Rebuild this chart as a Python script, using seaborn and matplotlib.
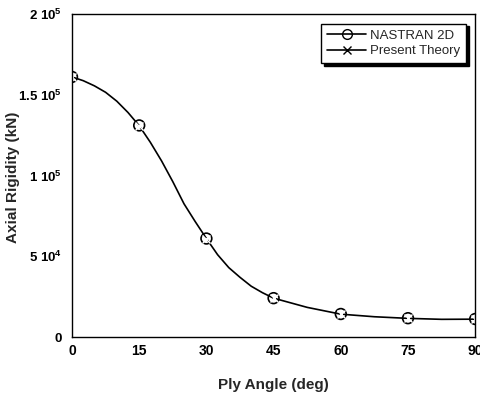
import matplotlib
matplotlib.use("Agg")
import matplotlib.pyplot as plt
import seaborn as sns
from matplotlib.lines import Line2D

# ---- data ----
nastran_angle = [0, 15, 30, 45, 60, 75, 90]
nastran_rigidity = [1.61e5, 1.31e5, 0.61e5, 0.241e5, 0.143e5, 0.117e5, 0.112e5]

theory_angle = [0, 2.5, 5, 7.5, 10, 12.5, 15, 17.5, 20, 22.5, 25, 27.5, 30,
                32.5, 35, 37.5, 40, 42.5, 45, 52.5, 60, 67.5, 75, 82.5, 90]
theory_rigidity = [1.61e5, 1.587e5, 1.555e5, 1.515e5, 1.46e5, 1.39e5, 1.308e5,
                   1.205e5, 1.09e5, 0.962e5, 0.825e5, 0.715e5, 0.61e5,
                   0.51e5, 0.43e5, 0.37e5, 0.315e5, 0.275e5, 0.241e5,
                   0.184e5, 0.142e5, 0.126e5, 0.116e5, 0.11e5, 0.111e5]
theory_marker_idx = [0, 6, 12, 18, 20, 22, 24]

x_ticks = [0, 15, 30, 45, 60, 75, 90]
y_ticks = [0, 5e4, 1e5, 1.5e5, 2e5]
y_tick_labels = ["0", r"$\mathbf{5\ 10^4}$", r"$\mathbf{1\ 10^5}$",
                 r"$\mathbf{1.5\ 10^5}$", r"$\mathbf{2\ 10^5}$"]

sns.set_style("white")
plt.rcParams["font.family"] = ["Liberation Sans", "DejaVu Sans"]
plt.rcParams["mathtext.fontset"] = "custom"
plt.rcParams["mathtext.rm"] = "Liberation Sans"
plt.rcParams["mathtext.bf"] = "Liberation Sans:bold"
plt.rcParams["mathtext.it"] = "Liberation Sans:italic"

fig = plt.figure(figsize=(4.8, 3.98), dpi=100)
ax = fig.add_axes([0.15, 0.153, 0.84, 0.812])

sns.lineplot(x=theory_angle, y=theory_rigidity, ax=ax, color="black",
             linewidth=1.2, marker="x", markersize=6, markeredgewidth=1.0,
             markevery=theory_marker_idx, legend=False)
sns.scatterplot(x=nastran_angle, y=nastran_rigidity, ax=ax, marker="o",
                s=60, facecolor="none", edgecolor="black", linewidth=1.2,
                legend=False)

ax.set_xlim(0, 90)
ax.set_ylim(0, 2e5)
ax.set_xticks(x_ticks)
ax.set_xticklabels([str(t) for t in x_ticks], fontweight="bold")
ax.set_yticks(y_ticks)
ax.set_yticklabels(y_tick_labels, fontweight="bold")
ax.tick_params(axis="x", direction="in", length=5, width=1,
               labelsize=10, colors="black", pad=5)
ax.tick_params(axis="y", direction="in", length=5, width=1,
               labelsize=9.5, colors="black", pad=7)
for s in ax.spines.values():
    s.set_color("black")
    s.set_linewidth(1.0)

ax.set_xlabel("Ply Angle (deg)", fontsize=11, fontweight="bold")
ax.xaxis.set_label_coords(0.5, -0.128)
ax.set_ylabel("Axial Rigidity (kN)", fontsize=11, fontweight="bold")
ax.yaxis.set_label_coords(-0.128, 0.495)

handles = [
    Line2D([], [], color="black", lw=1.2, marker="o", markersize=7,
           markerfacecolor="none", markeredgecolor="black"),
    Line2D([], [], color="black", lw=1.2, marker="x", markersize=6),
]
leg = ax.legend(handles, ["NASTRAN 2D", "Present Theory"], loc="upper right",
                bbox_to_anchor=(0.978, 0.97), fontsize=9.5, frameon=True,
                fancybox=False, handlelength=3.0, handletextpad=0.3,
                borderpad=0.45, labelspacing=0.25, borderaxespad=0,
                shadow={"color": "black", "alpha": 1.0, "ox": 2.0, "oy": -2.0})
leg.get_frame().set_edgecolor("black")
leg.get_frame().set_linewidth(1.0)

fig.savefig("out.png", dpi=100)
